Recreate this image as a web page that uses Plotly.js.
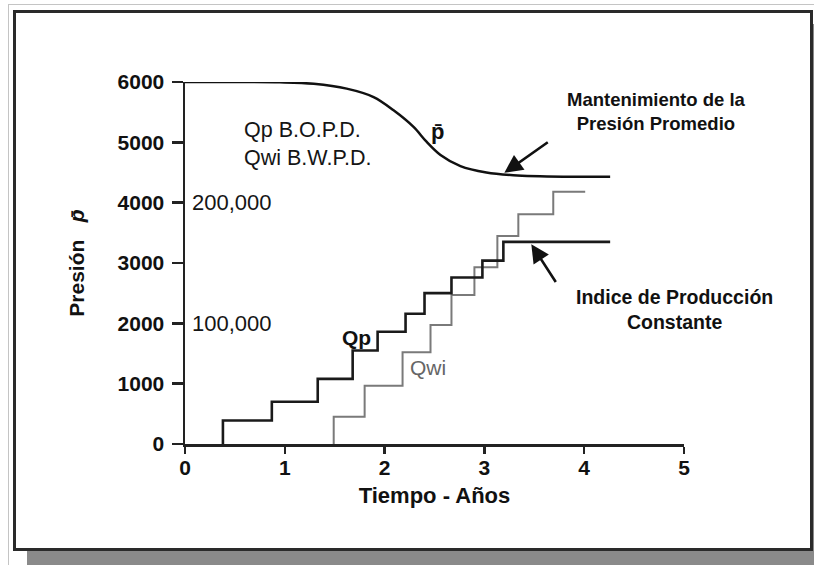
<!DOCTYPE html>
<html>
<head>
<meta charset="utf-8">
<script src="https://cdn.plot.ly/plotly-3.0.1.min.js"></script>
<style>
  html, body { margin: 0; padding: 0; background: #ffffff; }
  #page { position: relative; width: 814px; height: 565px; overflow: hidden; background: #ffffff; }
  #edge { position: absolute; left: 8px; top: 4px; width: 820px; height: 600px;
          border-left: 1px solid #c4c4c4; border-top: 1px solid #c4c4c4; }
  #box { position: absolute; left: 13px; top: 10px; width: 794px; height: 535px;
         border: 3px solid #2a2a2a; background: #ffffff; box-shadow: 14px 14px 0 #8a8a8a; }
  #chart { position: absolute; left: 0; top: 0; width: 814px; height: 565px; }
</style>
</head>
<body>
<div id="page">
  <div id="edge"></div>
  <div id="box"></div>
  <div id="chart"></div>
</div>
<script>
// Average reservoir pressure (psi) vs time (years)
const pressureTime  = [-0.08, 0.5, 0.95, 1.29, 1.62, 1.89, 2.09, 2.29, 2.42, 2.56, 2.76, 3.02, 3.29, 3.79, 4.26];
const pressureValue = [6000, 6000, 5995, 5970, 5890, 5750, 5530, 5255, 5010, 4790, 4605, 4500, 4455, 4430, 4430];

// Oil rate Qp (drawn on the pressure scale: 2000 = 100,000 B.O.P.D.), step changes
const qpTime  = [0.38, 0.38, 0.87, 1.33, 1.68, 1.93, 2.21, 2.40, 2.67, 2.98, 3.19, 4.26];
const qpLevel = [0, 390, 700, 1080, 1550, 1860, 2160, 2500, 2760, 3040, 3350, 3350];

// Water injection rate Qwi (same scale), step changes
const qwiTime  = [1.49, 1.49, 1.80, 2.18, 2.46, 2.67, 2.90, 3.13, 3.34, 3.69, 4.01];
const qwiLevel = [0, 453, 967, 1519, 1972, 2470, 2928, 3448, 3807, 4182, 4182];

// Axis ticks
const xTicks = [0, 1, 2, 3, 4, 5];
const yTicks = [0, 1000, 2000, 3000, 4000, 5000, 6000];
const rateTickText = ["100,000", "200,000"];
const rateTickPos  = [2000, 4000];

const FONT = "Liberation Sans, Arial, sans-serif";
const NARROW = "Liberation Sans Narrow, Arial Narrow, Liberation Sans, Arial, sans-serif";

const traces = [
  { x: pressureTime, y: pressureValue, mode: "lines", cliponaxis: false,
    line: { color: "#111111", width: 2.5, shape: "spline", smoothing: 1.0 }, hoverinfo: "skip" },
  { x: qwiTime, y: qwiLevel, mode: "lines", cliponaxis: false,
    line: { color: "#7a7a7a", width: 2, shape: "hv" }, hoverinfo: "skip" },
  { x: qpTime, y: qpLevel, mode: "lines", cliponaxis: false,
    line: { color: "#1a1a1a", width: 2.6, shape: "hv" }, hoverinfo: "skip" }
];

const annotations = [
  { x: 0.57, y: 4968, xref: "x", yref: "y", text: "Qp B.O.P.D.<br>Qwi B.W.P.D.", showarrow: false,
    xanchor: "left", yanchor: "middle", align: "left", font: { family: FONT, size: 21.5, color: "#151515" } },
  { x: 2.53, y: 5184, xref: "x", yref: "y", text: "p\u0304", showarrow: false,
    font: { family: FONT, size: 22, color: "#111111", weight: "bold" } },
  { x: 1.72, y: 1772, xref: "x", yref: "y", text: "<b>Qp</b>", showarrow: false,
    font: { family: FONT, size: 21, color: "#111111" } },
  { x: 2.43, y: 1275, xref: "x", yref: "y", text: "Qwi", showarrow: false,
    font: { family: FONT, size: 21, color: "#666666" } },
  { x: 4.72, y: 5512, xref: "x", yref: "y", text: "<b>Mantenimiento de la<br>Presión Promedio</b>", showarrow: false,
    align: "center", font: { family: FONT, size: 18.5, color: "#111111" } },
  { x: 4.90, y: 2233, xref: "x", yref: "y", text: "<b>Indice de Producción<br>Constante</b>", showarrow: false,
    align: "center", font: { family: FONT, size: 19.5, color: "#111111" } },
  { x: 3.20, y: 4494, ax: 3.65, ay: 5019, xref: "x", yref: "y", axref: "x", ayref: "y", text: "",
    showarrow: true, arrowhead: 2, arrowsize: 1.4, arrowwidth: 2.6, arrowcolor: "#111111" },
  { x: 3.47, y: 3312, ax: 3.725, ay: 2661, xref: "x", yref: "y", axref: "x", ayref: "y", text: "",
    showarrow: true, arrowhead: 2, arrowsize: 1.4, arrowwidth: 2.6, arrowcolor: "#111111" }
];
for (let i = 0; i < rateTickText.length; i++) {
  annotations.push({ x: 0.05, y: rateTickPos[i], xref: "x", yref: "y", text: rateTickText[i],
    showarrow: false, xanchor: "left", yanchor: "middle",
    font: { family: FONT, size: 22, color: "#151515" } });
}

const layout = {
  width: 814, height: 565,
  margin: { l: 185, r: 130, t: 82, b: 121 },
  paper_bgcolor: "rgba(0,0,0,0)", plot_bgcolor: "rgba(0,0,0,0)",
  showlegend: false,
  xaxis: {
    range: [0, 5], tickvals: xTicks, ticks: "outside", ticklen: 7, tickwidth: 2.5, tickcolor: "#222222",
    showline: true, linecolor: "#222222", linewidth: 2.5, showgrid: false, zeroline: false,
    ticklabelstandoff: -4,
    tickfont: { family: FONT, size: 21, color: "#111111", weight: "bold" },
    title: { text: "<b>Tiempo - Años</b>", font: { family: FONT, size: 22, color: "#111111" }, standoff: 10 }
  },
  yaxis: {
    range: [0, 6000], tickvals: yTicks, tickformat: "d", ticks: "outside", ticklen: 11, tickwidth: 2.5,
    tickcolor: "#222222", showline: true, linecolor: "#222222", linewidth: 2.5, showgrid: false, zeroline: false,
    ticklabelstandoff: 3,
    tickfont: { family: FONT, size: 21, color: "#111111", weight: "bold" },
    title: { text: "<b>Presión   <i>p\u0304</i></b>", font: { family: NARROW, size: 21, color: "#111111" }, standoff: 27 }
  },
  annotations: annotations
};

Plotly.newPlot("chart", traces, layout, { staticPlot: true, displayModeBar: false });
</script>
</body>
</html>
